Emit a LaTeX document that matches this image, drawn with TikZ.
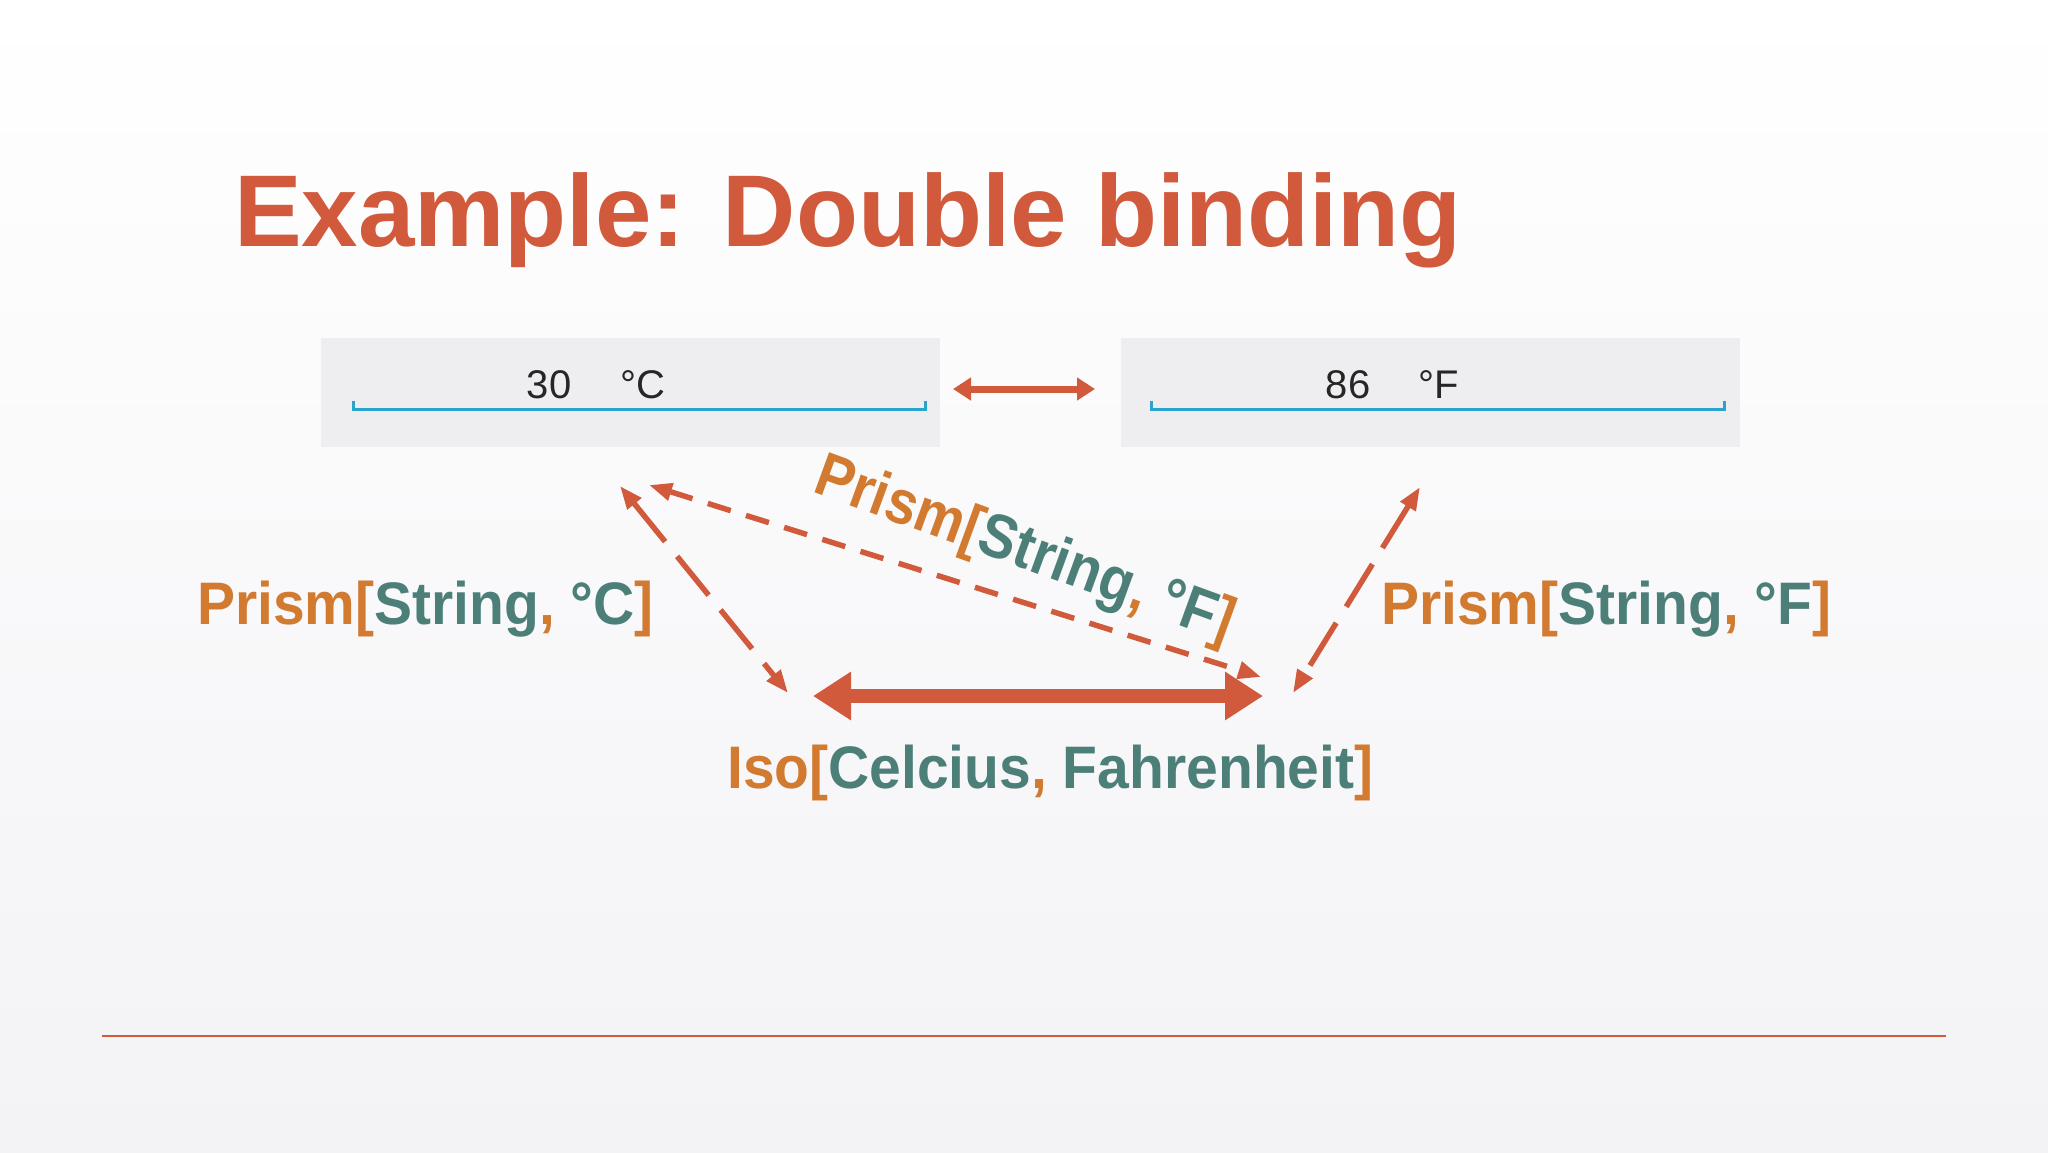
\documentclass[tikz,border=0pt]{standalone}
\usepackage{fontspec}
\setmainfont{Liberation Sans}
\newfontfamily\lblfont{Liberation Sans}[FakeStretch=0.95]
\newfontfamily\rotfont{Liberation Sans}[FakeStretch=0.9]
\newfontfamily\ttlfont{Liberation Sans}[FakeStretch=0.995]
\usetikzlibrary{arrows.meta}
\definecolor{accent}{HTML}{D15A3C}
\definecolor{orng}{HTML}{D27A30}
\definecolor{teal}{HTML}{4B7F78}
\definecolor{boxgray}{HTML}{EEEEF0}
\definecolor{uline}{HTML}{2AA3CF}
\definecolor{bgbot}{HTML}{F3F2F5}
\tikzset{
  fieldbox/.style={fill=boxgray, draw=none},
  dasharrow/.style={accent, line width=5.5pt, dash pattern=on 50pt off 19pt,
     {Triangle[length=23pt,width=17pt]}-{Triangle[length=23pt,width=17pt]}},
  thinarrow/.style={accent, line width=7pt, {Triangle[length=18pt,width=22pt]}-{Triangle[length=18pt,width=22pt]}},
  thickarrow/.style={accent, line width=14pt, {Triangle[length=38pt,width=46pt]}-{Triangle[length=38pt,width=46pt]}},
  lbl/.style={inner sep=0pt, font=\lblfont\fontsize{60}{66}\selectfont\bfseries},
  rotlbl/.style={inner sep=0pt, font=\rotfont\fontsize{62}{66}\selectfont\bfseries},
  fieldtxt/.style={inner sep=0pt, text=black!85, font=\fontsize{40}{44}\selectfont},
}
\begin{document}
\begin{tikzpicture}[x=1pt,y=-1pt]
\useasboundingbox (0,0) rectangle (2048,1152);
\shade[top color=white, bottom color=bgbot] (0,0) rectangle (2048,1152);
% title
\node[inner sep=0pt, anchor=base west, text=accent, font=\ttlfont\fontsize{102}{110}\selectfont\bfseries] (title) at (234,246) {Example: Double binding};
% boxes
\node[fieldbox, minimum width=619pt, minimum height=109pt, anchor=north west] (boxC) at (321,338) {};
\node[fieldbox, minimum width=619pt, minimum height=109pt, anchor=north west] (boxF) at (1121,338) {};
\draw[uline, line width=3pt] (353,401) |- (925,409) -- (925,401);
\draw[uline, line width=3pt] (1151,401) |- (1724,409) -- (1724,401);
\node[fieldtxt, anchor=base] (vc) at (549,398) {30};
\node[fieldtxt, anchor=base] (uc) at (643,398) {°C};
\node[fieldtxt, anchor=base] (vf) at (1348,398) {86};
\node[fieldtxt, anchor=base] (uf) at (1439,398) {°F};
% top arrow between boxes
\coordinate (ta) at (953,389);
\coordinate (tb) at (1095,389);
\draw[thinarrow] (ta) -- (tb);
% labels
\node[lbl, anchor=base west] (lc) at (197,624) {\color{orng}Prism[\color{teal}String\color{orng}, \color{teal}°C\color{orng}]};
\node[lbl, anchor=base west] (lf) at (1381,624) {\color{orng}Prism[\color{teal}String\color{orng}, \color{teal}°F\color{orng}]};
\node[lbl, anchor=base west] (iso) at (727,788) {\color{orng}Iso[\color{teal}Celcius\color{orng}, \color{teal}Fahrenheit\color{orng}]};
\node[rotlbl, rotate=-20] (lr) at (1024,552) {\color{orng}Prism[\color{teal}String\color{orng}, \color{teal}°F\color{orng}]};
% arrow endpoints
\coordinate (c1) at (620,486);
\coordinate (c2) at (788,693);
\coordinate (d1) at (649,485);
\coordinate (d2) at (1261,677);
\coordinate (f1) at (1420,487);
\coordinate (f2) at (1293,693);
\coordinate (i1) at (813,696);
\coordinate (i2) at (1263,696);
\draw[dasharrow] (c1) -- (c2);
\draw[dasharrow, dash pattern=on 24pt off 16pt] (d1) -- (d2);
\draw[dasharrow] (f1) -- (f2);
\draw[thickarrow] (i1) -- (i2);
% bottom rule
\coordinate (r1) at (102,1036);
\coordinate (r2) at (1946,1036);
\draw[accent, line width=2.2pt] (r1) -- (r2);
\end{tikzpicture}
\end{document}
